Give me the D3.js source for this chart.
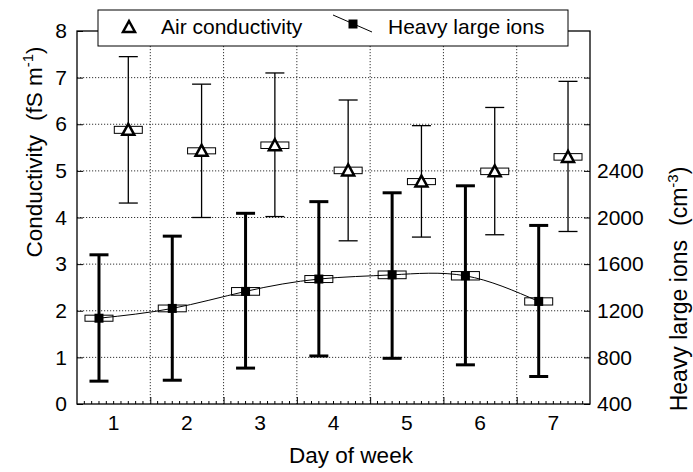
<!DOCTYPE html>
<html>
<head>
<meta charset="utf-8">
<script src="https://cdn.jsdelivr.net/npm/d3@7"></script>
<style>
  body { margin: 0; background: #fff; }
  text { font-family: "Liberation Sans", Arial, sans-serif; fill: #000; }
</style>
</head>
<body>
<div id="chart"></div>
<script>
var days = [1, 2, 3, 4, 5, 6, 7];

// air conductivity, fS m-1
var airMean = [5.88, 5.43, 5.55, 5.01, 4.77, 4.99, 5.30];
var airSE = [0.075, 0.065, 0.07, 0.07, 0.065, 0.07, 0.07];
var airLow = [4.31, 4.00, 4.02, 3.50, 3.58, 3.63, 3.70];
var airHigh = [7.45, 6.86, 7.10, 6.52, 5.97, 6.36, 6.92];

// heavy large ions, cm-3
var ionMean = [1136, 1220, 1366, 1472, 1508, 1500, 1280];
var ionSE = [26, 29, 33, 30, 33, 36, 31];
var ionLow = [596, 604, 708, 812, 792, 736, 636];
var ionHigh = [1680, 1840, 2036, 2136, 2212, 2272, 1932];

var leftTicks = [0, 1, 2, 3, 4, 5, 6, 7, 8];
var rightTicks = [400, 800, 1200, 1600, 2000, 2400];
var rightTickMarks = [400, 800, 1200, 1600, 2000, 2400, 2800, 3200];
var dayBounds = [1.5, 2.5, 3.5, 4.5, 5.5, 6.5];

var width = 693, height = 472;
var plotLeft = 77, plotRight = 590, plotTop = 31, plotBottom = 404;
var offset = 0.2;

var svg = d3.select("#chart").append("svg")
  .attr("width", width)
  .attr("height", height);

var x = d3.scaleLinear().domain([0.5, 7.5]).range([plotLeft, plotRight]);
var y = d3.scaleLinear().domain([0, 8]).range([plotBottom, plotTop]);
var y2 = d3.scaleLinear().domain([400, 3600]).range([plotBottom, plotTop]);

// grid
var grid = svg.append("g")
  .attr("stroke", "#000")
  .attr("stroke-width", 0.8)
  .attr("stroke-dasharray", "1.2,1.8");

grid.selectAll("line.h")
  .data(leftTicks.slice(1, 8))
  .enter().append("line")
  .attr("x1", plotLeft).attr("x2", plotRight)
  .attr("y1", function (d) { return y(d); })
  .attr("y2", function (d) { return y(d); });

grid.selectAll("line.v")
  .data(dayBounds)
  .enter().append("line")
  .attr("y1", plotTop).attr("y2", plotBottom)
  .attr("x1", function (d) { return x(d); })
  .attr("x2", function (d) { return x(d); });

// axes
var axisLeft = d3.axisLeft(y).tickValues(leftTicks).tickSize(-6).tickPadding(10);
var gl = svg.append("g").attr("transform", "translate(" + plotLeft + ",0)").call(axisLeft);

var axisRight = d3.axisRight(y2).tickValues(rightTickMarks).tickSize(-6).tickPadding(7)
  .tickFormat(function (d) { return rightTicks.indexOf(d) >= 0 ? d : ""; });
var gr = svg.append("g").attr("transform", "translate(" + plotRight + ",0)").call(axisRight);

var axisBottom = d3.axisBottom(x).tickValues(dayBounds).tickSize(-7).tickFormat("");
var gb = svg.append("g").attr("transform", "translate(0," + plotBottom + ")").call(axisBottom);

var minor = d3.range(0.6, 7.45, 0.1).filter(function (d) {
  return Math.abs(d - Math.round(d - 0.5) - 0.5) > 0.01;
});
gb.selectAll("line.minor")
  .data(minor)
  .enter().append("line")
  .attr("class", "minor")
  .attr("x1", function (d) { return x(d); })
  .attr("x2", function (d) { return x(d); })
  .attr("y1", 0).attr("y2", -3);

svg.append("g").selectAll("text")
  .data(days)
  .enter().append("text")
  .attr("x", function (d) { return x(d); })
  .attr("y", 430)
  .attr("text-anchor", "middle")
  .style("font-size", "21px")
  .text(function (d) { return d; });

[gl, gr, gb].forEach(function (g) {
  g.select(".domain").remove();
  g.selectAll("line").attr("stroke", "#000").attr("stroke-width", 1);
  g.selectAll("text").style("font-size", "21px").attr("fill", "#000");
});

svg.append("rect")
  .attr("x", plotLeft).attr("y", plotTop)
  .attr("width", plotRight - plotLeft).attr("height", plotBottom - plotTop)
  .attr("fill", "none")
  .attr("stroke", "#000")
  .attr("stroke-width", 1.3);

// fitted curve through heavy ions
var line = d3.line()
  .x(function (d, i) { return x(days[i] - offset); })
  .y(function (d) { return y2(d); })
  .curve(d3.curveNatural);

function drawSeries(opts) {
  var g = svg.append("g");
  var cap = 9.5;
  days.forEach(function (d, i) {
    var cx = x(d + opts.dx);
    g.append("line")
      .attr("x1", cx).attr("x2", cx)
      .attr("y1", opts.scale(opts.low[i])).attr("y2", opts.scale(opts.high[i]))
      .attr("stroke", "#000").attr("stroke-width", opts.sw);
    [opts.low[i], opts.high[i]].forEach(function (v) {
      g.append("line")
        .attr("x1", cx - cap).attr("x2", cx + cap)
        .attr("y1", opts.scale(v)).attr("y2", opts.scale(v))
        .attr("stroke", "#000").attr("stroke-width", opts.sw);
    });
    var yTop = opts.scale(opts.mean[i] + opts.se[i]);
    var yBot = opts.scale(opts.mean[i] - opts.se[i]);
    g.append("rect")
      .attr("x", cx - 14).attr("width", 28)
      .attr("y", yTop).attr("height", yBot - yTop)
      .attr("fill", "#fff").attr("stroke", "#000").attr("stroke-width", 1);
  });
  if (opts.curve) {
    svg.append("path")
      .attr("d", line(opts.mean))
      .attr("fill", "none")
      .attr("stroke", "#000")
      .attr("stroke-width", 1);
  }
  days.forEach(function (d, i) {
    opts.marker(svg, x(d + opts.dx), opts.scale(opts.mean[i]));
  });
}

function triangle(g, cx, cy) {
  g.append("path")
    .attr("d", "M" + cx + "," + (cy - 6) + "L" + (cx + 6) + "," + (cy + 5) + "L" + (cx - 6) + "," + (cy + 5) + "Z")
    .attr("fill", "#fff").attr("stroke", "#000").attr("stroke-width", 2.5)
    .attr("stroke-linejoin", "miter");
}

function square(g, cx, cy) {
  g.append("rect")
    .attr("x", cx - 4.5).attr("y", cy - 4.5)
    .attr("width", 9).attr("height", 9)
    .attr("fill", "#000");
}

drawSeries({ dx: -offset, mean: ionMean, se: ionSE, low: ionLow, high: ionHigh, scale: y2, sw: 3, marker: square, curve: true });
drawSeries({ dx: offset, mean: airMean, se: airSE, low: airLow, high: airHigh, scale: y, sw: 1.3, marker: triangle });

// legend
var lg = svg.append("g");
lg.append("rect")
  .attr("x", 98).attr("y", 10).attr("width", 470).attr("height", 36)
  .attr("fill", "#fff").attr("stroke", "#000").attr("stroke-width", 1);
triangle(lg, 129, 27);
lg.append("text").attr("x", 161).attr("y", 34).style("font-size", "21px").text("Air conductivity");
lg.append("line")
  .attr("x1", 333).attr("y1", 15).attr("x2", 372).attr("y2", 32)
  .attr("stroke", "#000").attr("stroke-width", 1);
square(lg, 353, 24);
lg.append("text").attr("x", 388).attr("y", 34).style("font-size", "21px").text("Heavy large ions");

// axis titles
svg.append("text")
  .attr("x", 351).attr("y", 463)
  .attr("text-anchor", "middle")
  .style("font-size", "22.5px")
  .text("Day of week");

var tl = svg.append("text")
  .attr("transform", "translate(42,152) rotate(-90)")
  .attr("text-anchor", "middle")
  .style("font-size", "22.5px");
tl.append("tspan").text("Conductivity");
tl.append("tspan").attr("dx", 14).text("(fS m");
tl.append("tspan").attr("dy", -9).style("font-size", "15px").text("-1");
tl.append("tspan").attr("dy", 9).text(")");

var tr = svg.append("text")
  .attr("transform", "translate(687,289) rotate(-90)")
  .attr("text-anchor", "middle")
  .style("font-size", "23px");
tr.append("tspan").text("Heavy large ions");
tr.append("tspan").attr("dx", 14).text("(cm");
tr.append("tspan").attr("dy", -9).style("font-size", "15px").text("-3");
tr.append("tspan").attr("dy", 9).text(")");
</script>
</body>
</html>
